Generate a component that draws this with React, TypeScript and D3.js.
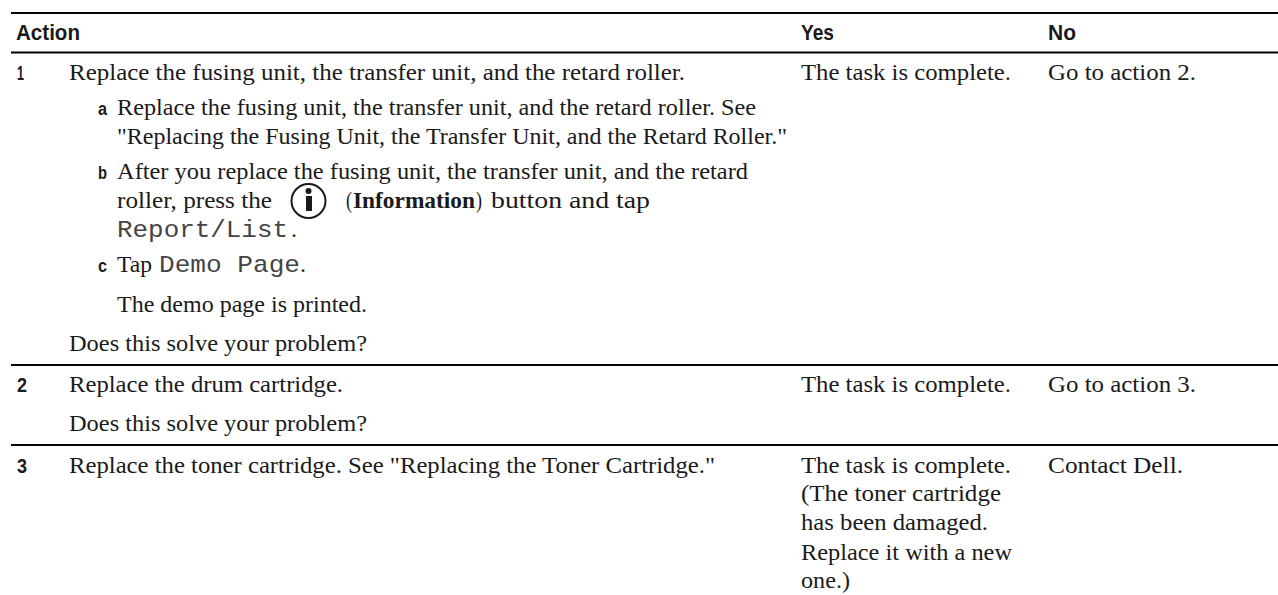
import React from "react";
import * as d3 from "d3";

const W = 1278, H = 595;

const headers = ["Action", "Yes", "No"];
const rowNumbers = ["1", "2", "3"];
const subLetters = ["a", "b", "c"];
const action1 = "Replace the fusing unit, the transfer unit, and the retard roller.";
const step_a = ["Replace the fusing unit, the transfer unit, and the retard roller. See", "\"Replacing the Fusing Unit, the Transfer Unit, and the Retard Roller.\""];
const step_b = ["After you replace the fusing unit, the transfer unit, and the retard", "roller, press the", "(", "Information", ")", "button and tap", "Report/List", "."];
const step_c = ["Tap", "Demo Page", "."];
const printed = "The demo page is printed.";
const question = "Does this solve your problem?";
const action2 = "Replace the drum cartridge.";
const action3 = "Replace the toner cartridge. See \"Replacing the Toner Cartridge.\"";
const yesText = "The task is complete.";
const yes3 = ["(The toner cartridge", "has been damaged.", "Replace it with a new", "one.)"];
const noText = ["Go to action 2.", "Go to action 3.", "Contact Dell."];

const ruleNames = ["top", "header", "row1", "row2"];
const colX = d3.scaleOrdinal<string, number>().domain(["num", "action", "letter", "sub", "yes", "no"]).range([17, 69, 98, 117, 801, 1048]);
const ruleY = d3.scaleOrdinal<string, number>().domain(ruleNames).range([13, 52.5, 365, 445]);

const SERIF = "'Liberation Serif', serif";
const NARROW = "'Liberation Sans', sans-serif";
const MONO = "'Liberation Mono', monospace";
const INK = "#1a1a1a";

function T({ x, y, w, children, font = SERIF, size = 24, weight = 400, fill = INK }: any) {
  return (
    <text x={x} y={y} fontFamily={font} fontSize={size} fontWeight={weight} fill={fill}
      textLength={w} lengthAdjust="spacingAndGlyphs" style={{ whiteSpace: "pre" }}>{children}</text>
  );
}

export default function App() {
  return (
    <svg width={W} height={H} viewBox={`0 0 ${W} ${H}`} style={{ position: "absolute", left: 0, top: 0, background: "#fff" }}>
      {ruleNames.map((r) => (
        <line key={r} x1={11} x2={W} y1={ruleY(r)} y2={ruleY(r)} stroke="#000" strokeWidth={2} />
      ))}
      <T x={16} y={40} w={64} font={NARROW} size={22} weight={700}>{headers[0]}</T>
      <T x={colX("yes")} y={40} w={33} font={NARROW} size={22} weight={700}>{headers[1]}</T>
      <T x={colX("no")} y={40} w={28} font={NARROW} size={22} weight={700}>{headers[2]}</T>

      <T x={colX("num")} y={80} w={7} font={NARROW} size={21} weight={700}>{rowNumbers[0]}</T>
      <T x={colX("action")} y={80} w={616}>{action1}</T>
      <T x={colX("yes")} y={80} w={210}>{yesText}</T>
      <T x={colX("no")} y={80} w={148}>{noText[0]}</T>

      <T x={colX("letter")} y={115} w={9} font={NARROW} size={18} weight={700}>{subLetters[0]}</T>
      <T x={colX("sub")} y={115} w={639}>{step_a[0]}</T>
      <T x={colX("sub")} y={144} w={670}>{step_a[1]}</T>

      <T x={colX("letter")} y={179} w={9} font={NARROW} size={18} weight={700}>{subLetters[1]}</T>
      <T x={colX("sub")} y={179} w={631}>{step_b[0]}</T>
      <T x={colX("sub")} y={208} w={155}>{step_b[1]}</T>
      <circle cx={308.5} cy={201} r={17} fill="none" stroke={INK} strokeWidth={2} />
      <circle cx={308.5} cy={191} r={3} fill={INK} />
      <rect x={306} y={196} width={6} height={15} fill={INK} />
      <T x={346} y={208} w={6}>{step_b[2]}</T>
      <T x={353} y={208} w={122} weight={700}>{step_b[3]}</T>
      <T x={476} y={208} w={6}>{step_b[4]}</T>
      <T x={491} y={208} w={159}>{step_b[5]}</T>
      <T x={colX("sub")} y={237} w={171} font={MONO} size={24} fill="#444">{step_b[6]}</T>
      <T x={291} y={237} w={6}>{step_b[7]}</T>

      <T x={colX("letter")} y={272} w={9} font={NARROW} size={18} weight={700}>{subLetters[2]}</T>
      <T x={colX("sub")} y={272} w={35}>{step_c[0]}</T>
      <T x={159} y={272} w={141} font={MONO} size={24} fill="#444">{step_c[1]}</T>
      <T x={300} y={272} w={6}>{step_c[2]}</T>
      <T x={colX("sub")} y={312} w={250}>{printed}</T>
      <T x={colX("action")} y={351} w={298}>{question}</T>

      <T x={colX("num")} y={392} w={10} font={NARROW} size={21} weight={700}>{rowNumbers[1]}</T>
      <T x={colX("action")} y={392} w={274}>{action2}</T>
      <T x={colX("yes")} y={392} w={210}>{yesText}</T>
      <T x={colX("no")} y={392} w={148}>{noText[1]}</T>
      <T x={colX("action")} y={431} w={298}>{question}</T>

      <T x={colX("num")} y={473} w={10} font={NARROW} size={21} weight={700}>{rowNumbers[2]}</T>
      <T x={colX("action")} y={473} w={646}>{action3}</T>
      <T x={colX("yes")} y={473} w={210}>{yesText}</T>
      <T x={colX("no")} y={473} w={135}>{noText[2]}</T>
      <T x={colX("yes")} y={501} w={200}>{yes3[0]}</T>
      <T x={colX("yes")} y={530} w={187}>{yes3[1]}</T>
      <T x={colX("yes")} y={560} w={211}>{yes3[2]}</T>
      <T x={colX("yes")} y={588} w={49}>{yes3[3]}</T>
    </svg>
  );
}
